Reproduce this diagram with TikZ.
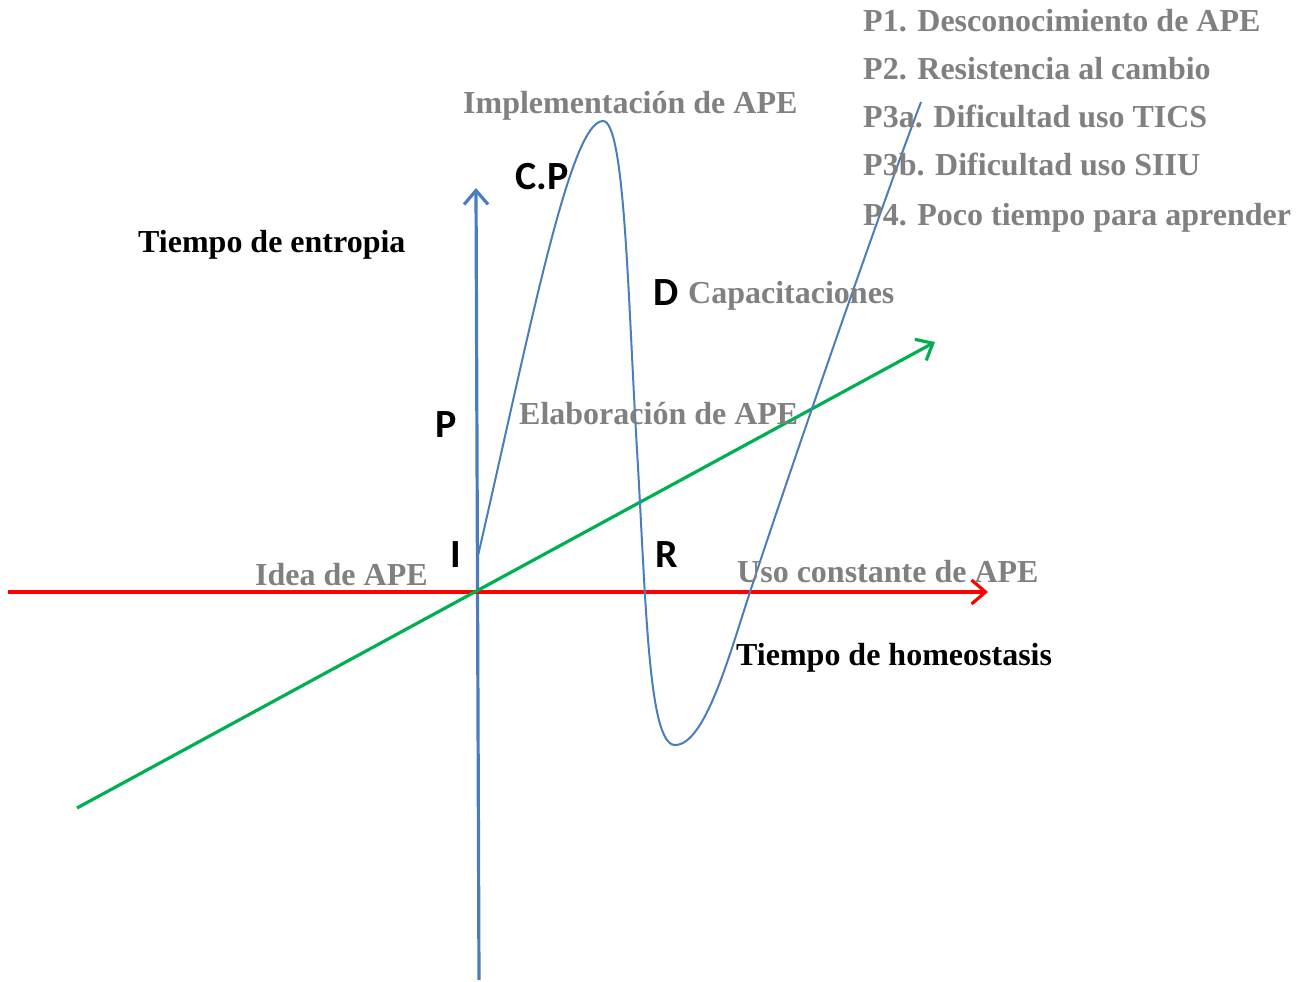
\documentclass[tikz,border=0pt]{standalone}
\usepackage{fontspec}
\setmainfont{Liberation Serif}
\newfontfamily\labfont{Carlito}
\usetikzlibrary{arrows.meta}
\definecolor{axblue}{RGB}{74,126,187}
\definecolor{axgreen}{RGB}{0,176,80}
\definecolor{txtgray}{RGB}{128,128,128}
\tikzset{
  gtext/.style={anchor=base west, inner sep=0pt, text=txtgray, font=\fontsize{32}{32}\selectfont\bfseries},
  btext/.style={anchor=base west, inner sep=0pt, text=black, font=\fontsize{32}{32}\selectfont\bfseries},
  letter/.style={anchor=base west, inner sep=0pt, text=black, font=\fontsize{40}{40}\selectfont\labfont\bfseries},
  barb/.style={-{Straight Barb[length=14pt,width=24pt,line width=3.2pt]}},
  axis/.style={line width=3.2pt, barb},
  curve/.style={line width=2pt, axblue}
}
\begin{document}
\begin{tikzpicture}[x=1pt,y=-1pt]
\useasboundingbox (0,0) rectangle (1309,982);
% axes
\coordinate (vb) at (479,980);
\coordinate (vt) at (476,188);
\coordinate (hl) at (8,592);
\coordinate (hr) at (988,592);
\coordinate (gl) at (77,808);
\coordinate (gr) at (935,342);
\draw[axis, axblue] (vb) -- (vt);
\draw[axis, red] (hl) -- (hr);
\draw[axis, axgreen] (gl) -- (gr);
% curve
\coordinate (c0) at (477,560);
\coordinate (c1) at (603,121);
\coordinate (c2) at (637,450);
\coordinate (c3) at (675,745);
\coordinate (c4) at (750,592);
\coordinate (c5) at (921,102);
\draw[curve] (c0) .. controls (530,330) and (570,121) .. (c1)
  .. controls (625,121) and (628,300) .. (c2)
  .. controls (646,600) and (648,745) .. (c3)
  .. controls (705,745) and (729,656) .. (c4)
  .. controls (790,470) and (880,210) .. (c5);
% gray labels
\node[gtext] (p1) at (863,32) {P1. Desconocimiento de APE};
\node[gtext] (p2) at (863,80) {P2. Resistencia al cambio};
\node[gtext] (p3a) at (863,127) {P3a. Dificultad uso TICS};
\node[gtext] (p3b) at (863,175) {P3b. Dificultad uso SIIU};
\node[gtext] (p4) at (863,225) {P4. Poco tiempo para aprender};
\node[gtext] (impl) at (463,113) {Implementación de APE};
\node[gtext] (capa) at (688,303) {Capacitaciones};
\node[gtext] (elab) at (519,424) {Elaboración de APE};
\node[gtext] (idea) at (255,585) {Idea de APE};
\node[gtext] (uso) at (737,582) {Uso constante de APE};
% black labels
\node[btext] (entropia) at (138,252) {Tiempo de entropia};
\node[btext] (homeo) at (736,665) {Tiempo de homeostasis};
\node[letter] (cp) at (515,189) {C.P};
\node[letter] (d) at (653,305) {D};
\node[letter] (p) at (435,437) {P};
\node[letter] (i) at (450,567) {I};
\node[letter] (r) at (655,567) {R};
\end{tikzpicture}
\end{document}
